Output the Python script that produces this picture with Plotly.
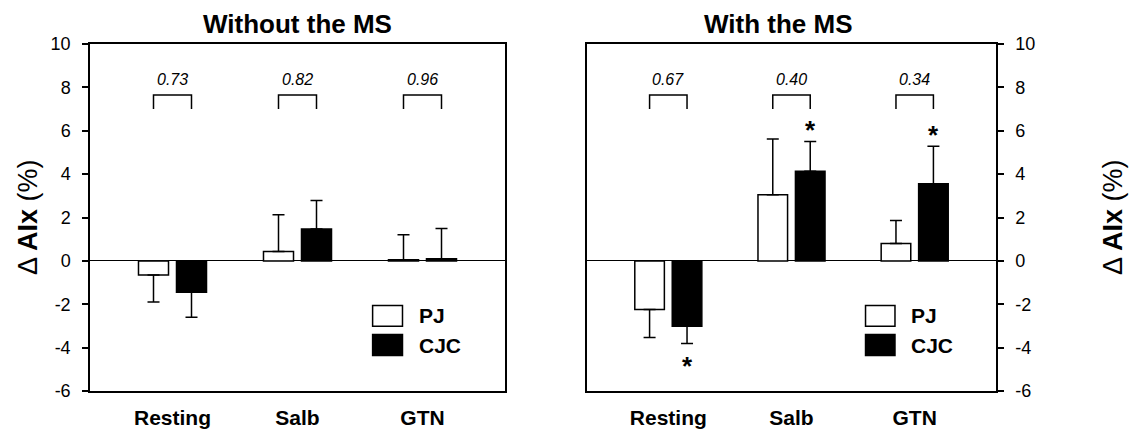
import plotly.graph_objects as go

# ---------------- data ----------------
categories = ["Resting", "Salb", "GTN"]
series_names = ["PJ", "CJC"]
panel_titles = ["Without the MS", "With the MS"]

without_pj = [-0.65, 0.43, 0.05]
without_pj_err = [1.25, 1.70, 1.16]
without_cjc = [-1.45, 1.47, 0.10]
without_cjc_err = [1.15, 1.31, 1.39]

with_pj = [-2.24, 3.05, 0.80]
with_pj_err = [1.29, 2.57, 1.06]
with_cjc = [-3.01, 4.13, 3.56]
with_cjc_err = [0.80, 1.38, 1.72]

p_without = ["0.73", "0.82", "0.96"]
p_with = ["0.67", "0.40", "0.34"]
star_without_cjc = [False, False, False]
star_with_cjc = [True, True, True]

bracket_low = 7.0
bracket_high = 7.65
p_label_y = 8.35

y_tick_vals = [-6, -4, -2, 0, 2, 4, 6, 8, 10]
y_tick_text = ["-6", "-4", "-2", "0", "2", "4", "6", "8", "10"]

# ---------------- styling ----------------
FONT = "Arial, Liberation Sans, Helvetica, sans-serif"
BARGAP = 0.392
BARGROUPGAP = 0.21
slot = (1 - BARGAP) / 2          # width of each bar slot within a group
half = slot / 2                  # distance of bar centre from group centre

fig = go.Figure()

panels = [
    dict(xa="x", ya="y", pj=without_pj, pje=without_pj_err, cjc=without_cjc,
         cjce=without_cjc_err, p=p_without, stars=star_without_cjc),
    dict(xa="x2", ya="y2", pj=with_pj, pje=with_pj_err, cjc=with_cjc,
         cjce=with_cjc_err, p=p_with, stars=star_with_cjc),
]

xs = list(range(len(categories)))


def err_arrays(vals, errs):
    plus = [e if v >= 0 else 0 for v, e in zip(vals, errs)]
    minus = [e if v < 0 else 0 for v, e in zip(vals, errs)]
    return plus, minus


annotations = []
shapes = []

for k, pn in enumerate(panels):
    for name, vals, errs, fill in [("PJ", pn["pj"], pn["pje"], "white"),
                                   ("CJC", pn["cjc"], pn["cjce"], "black")]:
        plus, minus = err_arrays(vals, errs)
        fig.add_trace(go.Bar(
            x=xs, y=vals, name=name, xaxis=pn["xa"], yaxis=pn["ya"],
            marker=dict(color=fill, line=dict(color="black", width=1.5)),
            error_y=dict(type="data", symmetric=False, array=plus,
                         arrayminus=minus, color="black", thickness=1.5,
                         width=6),
            showlegend=False, offsetgroup=name,
        ))
    # brackets
    for i in xs:
        fig.add_trace(go.Scatter(
            x=[i - half, i - half, i + half, i + half],
            y=[bracket_low, bracket_high, bracket_high, bracket_low],
            mode="lines", line=dict(color="black", width=1.5),
            xaxis=pn["xa"], yaxis=pn["ya"], showlegend=False, hoverinfo="skip",
        ))
        annotations.append(dict(
            x=i, y=p_label_y, xref=pn["xa"], yref=pn["ya"], text=f"<i>{pn['p'][i]}</i>",
            showarrow=False, font=dict(family=FONT, size=16, color="black"),
        ))
        if pn["stars"][i]:
            v = pn["cjc"][i]
            e = pn["cjce"][i]
            end = v + e if v >= 0 else v - e
            annotations.append(dict(
                x=i + half, y=end, xref=pn["xa"], yref=pn["ya"], text="<b>*</b>",
                showarrow=False, yanchor="middle", yshift=11 if v >= 0 else -22,
                font=dict(family=FONT, size=26, color="black"),
            ))
    # legend drawn inside the panel
    for j, (nm, fill) in enumerate([("PJ", "white"), ("CJC", "black")]):
        y0 = -2.06 - j * 1.34
        shapes.append(dict(
            type="rect", xref=pn["xa"] + " domain", yref=pn["ya"],
            x0=0.681, x1=0.753, y0=y0, y1=y0 - 0.96,
            line=dict(color="black", width=1.5), fillcolor=fill,
        ))
        annotations.append(dict(
            x=0.788, y=y0 - 0.48, xref=pn["xa"] + " domain", yref=pn["ya"],
            text=f"<b>{nm}</b>", showarrow=False, xanchor="left", yanchor="middle",
            font=dict(family=FONT, size=21, color="black"),
        ))

# panel titles
for xp, t in [(297 / 1129, panel_titles[0]), (778 / 1129, panel_titles[1])]:
    annotations.append(dict(x=xp, y=1 - 24 / 432, xref="paper", yref="paper",
                            text=f"<b>{t}</b>", showarrow=False, yanchor="middle",
                            xanchor="center",
                            font=dict(family=FONT, size=26, color="black")))
# y titles
for xp in [28 / 1129, 1113 / 1129]:
    annotations.append(dict(x=xp, y=1 - 217 / 432, xref="paper", yref="paper",
                            text="Δ <b>AIx</b> (%)", textangle=-90, showarrow=False,
                            xanchor="center", yanchor="middle",
                            font=dict(family=FONT, size=27, color="black")))

xaxis_common = dict(
    range=[-0.66, 2.66], tickvals=xs, ticktext=[f"<b>{c}</b>" for c in categories],
    showline=True, mirror=True, linecolor="black", linewidth=1.5,
    ticks="outside", ticklen=7, tickcolor="rgba(0,0,0,0)", showgrid=False,
    zeroline=False, automargin=False,
    tickfont=dict(family=FONT, size=21, color="black"),
)
yaxis_common = dict(
    range=[-6, 10], tickvals=y_tick_vals, ticktext=y_tick_text, showline=True,
    mirror=True, linecolor="black", linewidth=1.5, ticks="outside", ticklen=6,
    tickwidth=1.5, tickcolor="black", showgrid=False, zeroline=True,
    zerolinecolor="black", zerolinewidth=1.2, automargin=False,
    ticklabelstandoff=8,
    tickfont=dict(family=FONT, size=18, color="black"),
)

y_dom = [1 - 391 / 432, 1 - 44 / 432]
fig.update_layout(
    template="none",
    width=1129, height=432, margin=dict(l=0, r=0, t=0, b=0),
    paper_bgcolor="white", plot_bgcolor="white",
    barmode="group", bargap=BARGAP, bargroupgap=BARGROUPGAP,
    showlegend=False,
    xaxis=dict(domain=[90 / 1129, 505 / 1129], anchor="y", **xaxis_common),
    yaxis=dict(domain=y_dom, anchor="x", side="left", **yaxis_common),
    xaxis2=dict(domain=[587 / 1129, 996 / 1129], anchor="y2", **xaxis_common),
    yaxis2=dict(domain=y_dom, anchor="x2", side="right", **yaxis_common),
    annotations=annotations, shapes=shapes,
)

fig.write_html(
    "out.html",
    config={"displayModeBar": False},
    post_script="document.body.style.margin='0';document.body.style.overflow='hidden';",
)
